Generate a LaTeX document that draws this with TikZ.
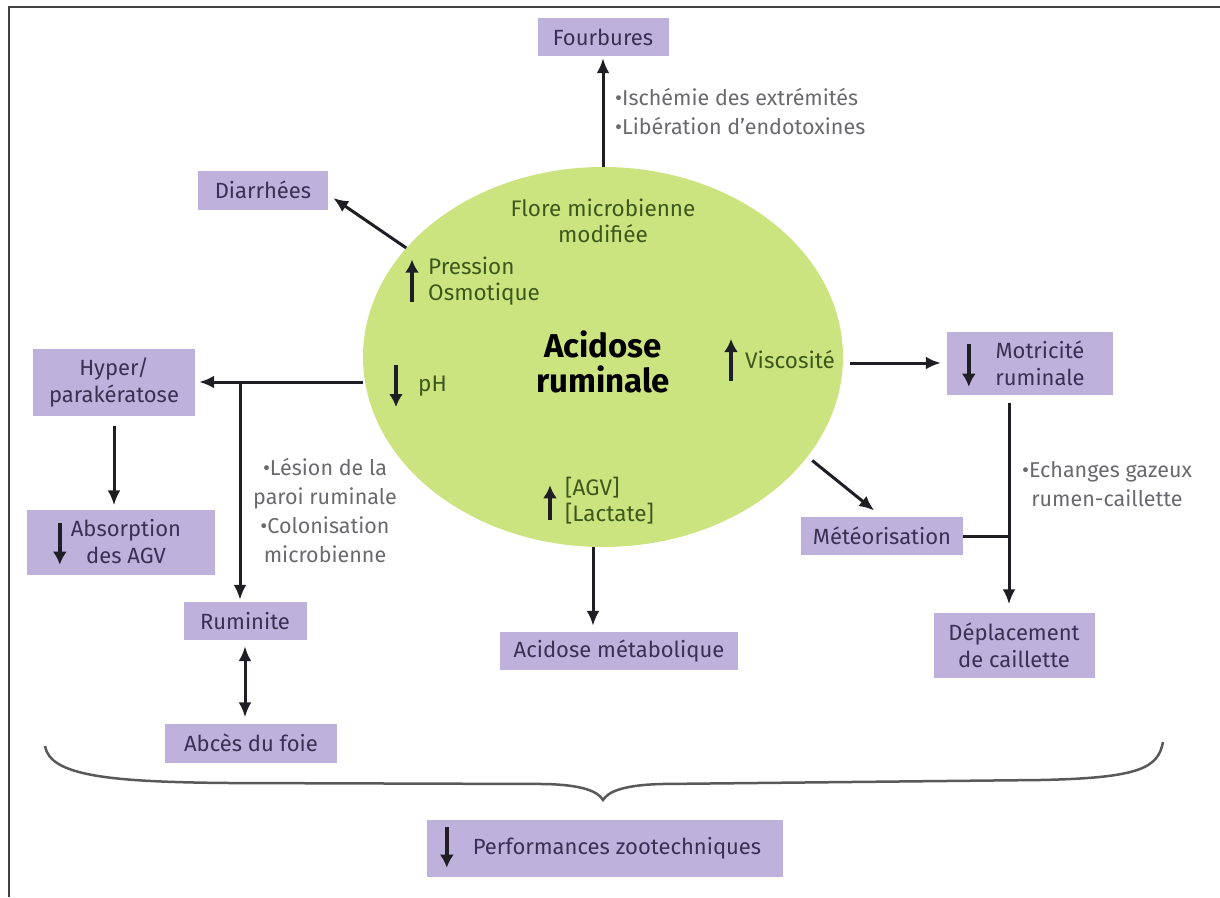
\documentclass[tikz,border=0pt]{standalone}
\usepackage{fontspec}
\setmainfont{Fira Sans}
\usetikzlibrary{arrows.meta,shapes.geometric}
\definecolor{boxfill}{RGB}{190,178,220}
\definecolor{boxtext}{RGB}{58,48,82}
\definecolor{rumen}{RGB}{204,228,128}
\definecolor{rumentext}{RGB}{62,88,28}
\definecolor{notetext}{RGB}{105,105,110}
\definecolor{arrowcol}{RGB}{30,30,36}

\begin{document}
\begin{tikzpicture}[x=1pt,y=-1pt,>={Latex[length=15pt,width=13pt]}]
\newcommand{\fsize}{\fontsize{22}{27}\selectfont}
\tikzstyle{box}=[fill=boxfill,text=boxtext,font=\fsize,align=center,inner sep=0pt]
\tikzstyle{note}=[text=notetext,font=\fontsize{21.5}{29}\selectfont,inner sep=0pt]
\tikzstyle{inner}=[text=rumentext,font=\fontsize{22.5}{26}\selectfont,inner sep=0pt]
\tikzstyle{link}=[draw=arrowcol,line width=3pt]
\tikzstyle{sym}=[draw=arrowcol,line width=4pt,-{Latex[length=13pt,width=14pt]}]

\useasboundingbox (0,0) rectangle (1220,897);
\draw[line width=2.8pt,draw=black!75] (1220,7) -- (9,7) -- (9,897);

% rumen
\node[ellipse,fill=rumen,minimum width=480pt,minimum height=380pt,inner sep=0pt] (acid) at (603,357) {};
\node[font=\bfseries\fontsize{33}{35}\selectfont,align=center,inner sep=0pt] (title) at (603,362) {Acidose\\ruminale};
\node[inner,align=center] (flore) at (603,221) {Flore microbienne\\modifiée};
\node[inner,anchor=west,align=left] (pres) at (428,281) {Pression\\Osmotique};
\node[inner,anchor=west] (ph) at (418,386) {pH};
\node[inner,anchor=west] (visc) at (745,360) {Viscosité};
\node[inner,anchor=west,align=left] (agv) at (565,501) {{[AGV]}\\{[Lactate]}};
\draw[sym] ([xshift=-16pt,yshift=3pt]pres.south west) -- ([xshift=-16pt,yshift=-3pt]pres.north west);
\draw[sym] ([xshift=-22pt,yshift=21pt]ph.west) -- ([xshift=-22pt,yshift=-21pt]ph.west);
\draw[sym] ([xshift=-14pt,yshift=-21pt]visc.west) -- ([xshift=-14pt,yshift=21pt]visc.west);
\draw[sym] ([xshift=-15pt,yshift=5pt]agv.south west) -- ([xshift=-15pt,yshift=-8pt]agv.north west);

% consequences
\node[box,minimum width=131pt,minimum height=38pt] (fourb) at (603,37) {Fourbures};
\node[box,minimum width=130pt,minimum height=39pt] (diar) at (263,190) {Diarrhées};
\node[box,minimum width=162pt,minimum height=67pt] (hyper) at (114,382) {Hyper/\\parakératose};
\node[box,minimum width=188pt,minimum height=65pt] (absorp) at (121,542) {\hspace*{10pt}Absorption\\\hspace*{10pt}des AGV};
\node[box,minimum width=123pt,minimum height=38pt] (rumi) at (245,621) {Ruminite};
\node[box,minimum width=172pt,minimum height=39pt] (abces) at (251,743) {Abcès du foie};
\node[box,minimum width=238pt,minimum height=38pt] (metab) at (619,651) {Acidose métabolique};
\node[box,minimum width=166pt,minimum height=63pt] (motri) at (1030,363) {\hspace*{20pt}Motricité\\\hspace*{20pt}ruminale};
\node[box,minimum width=162pt,minimum height=38pt] (meteo) at (882,536) {Météorisation};
\node[box,minimum width=161pt,minimum height=65pt] (depl) at (1014,645) {Déplacement\\de caillette};
\node[box,minimum width=356pt,minimum height=57pt] (perf) at (605,848) {\hspace*{24pt}Performances zootechniques};
\draw[sym] ([xshift=33pt,yshift=-14pt]absorp.north west) -- ([xshift=33pt,yshift=10pt]absorp.south west);
\draw[sym] ([xshift=22pt,yshift=-13pt]motri.north west) -- ([xshift=22pt,yshift=8pt]motri.south west);
\draw[sym] ([xshift=20pt,yshift=-8pt]perf.north west) -- ([xshift=20pt,yshift=9pt]perf.south west);

% notes
\node[note,anchor=west,align=left] (isch) at (615,112) {•Ischémie des extrémités\\•Libération d'endotoxines};
\node[note,align=center] (lesion) at (325,511) {•Lésion de la\\paroi ruminale\\•Colonisation\\microbienne};
\node[note,align=center] (echang) at (1107,484) {•Echanges gazeux\\rumen-caillette};

% links
\coordinate (br) at (240,382);
\coordinate (ms) at ([xshift=-10pt]acid.south);
\coordinate (mj) at (1009,536);
\draw[link,->,shorten >=2pt] (acid.north) -- (fourb.south);
\draw[link,->] (acid.151) -- ([xshift=5pt,yshift=-8pt]diar.east);
\draw[link,->,shorten >=4pt] (acid.west |- hyper.east) -- (hyper.east);
\draw[link,->,shorten >=2pt] (br) -- (br |- rumi.north);
\draw[link,->,shorten <=10pt,shorten >=4pt] (hyper.south) -- (hyper.south |- absorp.north);
\draw[link,<->,shorten <=6pt,shorten >=6pt] (rumi.south) -- (rumi.south |- abces.north);
\draw[link,->,shorten >=6pt] (ms) -- (ms |- metab.north);
\draw[link,->,shorten <=7pt,shorten >=6pt] (acid.east |- motri.west) -- (motri.west);
\draw[link,->,shorten <=6pt,shorten >=10pt] (acid.-26) -- (meteo.north);
\draw[link,->,shorten <=8pt,shorten >=8pt] (motri.south -| mj) -- (mj |- depl.north);
\draw[link] (meteo.east) -- (mj);

% brace
\draw[draw=black!65,line width=2.5pt] (45,746) .. controls (50,776) and (110,782) .. (230,783) -- (545,784) .. controls (585,785) and (598,792) .. (603,800) .. controls (608,792) and (622,785) .. (662,784) -- (1040,780) .. controls (1140,778) and (1158,768) .. (1163,742);
\end{tikzpicture}
\end{document}
